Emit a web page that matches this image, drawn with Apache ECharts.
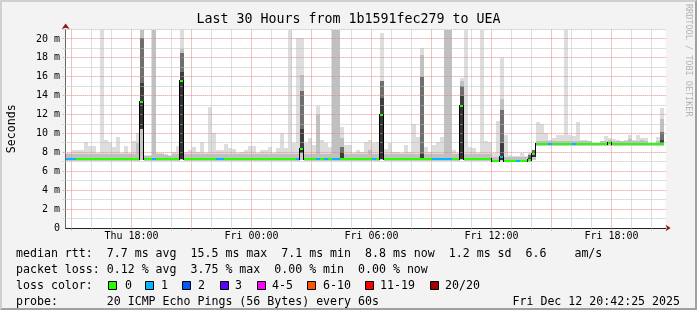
<!DOCTYPE html>
<html>
<head>
<meta charset="utf-8">
<script src="https://cdn.jsdelivr.net/npm/echarts@6/dist/echarts.min.js"></script>
<style>
html,body{margin:0;padding:0;background:#f3f3f3;}
#wrap{position:relative;width:697px;height:310px;}
#c{position:absolute;left:0;top:0;width:697px;height:310px;}
#frame{position:absolute;left:0;top:0;width:697px;height:310px;box-sizing:border-box;border:2px solid;border-color:#d0d0d0 #a0a0a0 #a0a0a0 #d0d0d0;pointer-events:none;}
</style>
</head>
<body>
<div id="wrap"><div id="c"></div><div id="frame"></div></div>
<script>
// ---------- text ----------
const chartTitle = 'Last 30 Hours from 1b1591fec279 to UEA';
const yAxisName = 'Seconds';
const sideNote = 'RRDTOOL / TOBI OETIKER';
const legendRtt = 'median rtt:  7.7 ms avg  15.5 ms max  7.1 ms min  8.8 ms now  1.2 ms sd  6.6    am/s';
const legendLoss = 'packet loss: 0.12 % avg  3.75 % max  0.00 % min  0.00 % now';
const legendColorLabel = 'loss color:';
const legendProbe = 'probe:       20 ICMP Echo Pings (56 Bytes) every 60s';
const legendDate = 'Fri Dec 12 20:42:25 2025';
const lossLegendLabels = ['0', '1', '2', '3', '4-5', '6-10', '11-19', '20/20'];
const lossLegendColors = ['#26ff00', '#00b8ff', '#0059ff', '#5e00ff', '#ff00ff', '#ff5500', '#ff0000', '#a10000'];

// ---------- axes (hours since Thu 00:00) ----------
const xStartHour = 14 + 42 / 60 + 25 / 3600;   // Thu 14:42:25
const xEndHour = xStartHour + 30;               // Fri 20:42:25
const xLabelHours = [18, 24, 30, 36, 42];
const yLabelValues = [0, 2, 4, 6, 8, 10, 12, 14, 16, 18, 20];
const firstBinStart = 14.6;   // Thu 14:36, 12-minute bins
const binHours = 0.2;
const hourGrid = [15,16,17,18,19,20,21,22,23,24,25,26,27,28,29,30,31,32,33,34,35,36,37,38,39,40,41,42,43,44];
const msGrid = [1,2,3,4,5,6,7,8,9,10,11,12,13,14,15,16,17,18,19,20,21];

// ---------- data (ms), one value per 12-minute bin ----------
const medianRtt = [
7.25,7.25,7.25,7.25,7.25,7.25,7.25,7.25,7.25,7.25,
7.25,7.25,7.25,7.25,7.25,7.25,7.25,7.25,7.25,13.37,
7.25,7.25,7.25,7.25,7.25,7.25,7.25,7.25,7.25,15.5,
7.25,7.25,7.25,7.25,7.25,7.25,7.25,7.25,7.25,7.25,
7.25,7.25,7.25,7.25,7.25,7.25,7.25,7.25,7.25,7.25,
7.25,7.25,7.25,7.25,7.25,7.25,7.25,7.25,7.25,8.35,
7.25,7.25,7.25,7.25,7.25,7.25,7.25,7.25,7.25,7.25,
7.25,7.25,7.25,7.25,7.25,7.25,7.25,7.25,7.25,11.96,
7.25,7.25,7.25,7.25,7.25,7.25,7.25,7.25,7.25,7.25,
7.25,7.25,7.25,7.25,7.25,7.25,7.25,7.25,7.25,12.9,
7.25,7.25,7.25,7.25,7.25,7.25,7.25,7.1,7.1,7.5,
7.1,7.1,7.1,7.1,7.1,7.1,7.15,7.83,8.84,8.84,
8.84,8.84,8.84,8.84,8.84,8.84,8.84,8.84,8.84,8.84,
8.84,8.84,8.84,8.84,8.84,8.84,8.97,8.84,8.84,8.84,
8.84,8.84,8.84,8.84,8.84,8.84,8.84,8.84,8.84,8.84];

const lostPings = [
1,1,1,0,0,0,0,0,0,0,
0,0,0,0,0,0,0,0,0,0,
0,0,1,0,0,0,0,0,0,0,
0,0,0,0,0,0,0,0,1,1,
0,0,0,0,0,0,0,0,0,0,
0,0,0,0,0,0,0,0,1,0,
0,0,0,1,0,1,0,1,1,0,
0,0,0,0,0,0,0,1,0,0,
0,0,0,0,0,0,0,0,0,0,
0,0,1,1,1,1,1,0,0,0,
0,0,0,0,0,0,0,0,0,1,
0,0,0,1,0,0,0,0,0,0,
0,1,0,0,0,0,0,1,0,0,
0,0,0,0,0,0,0,0,0,0,
0,0,0,0,0,0,0,0,0,0];

const smokeMin = [
7.1,7.1,7.1,7.1,7.1,7.1,7.1,7.1,7.1,7.1,
7.1,7.1,7.1,7.1,7.1,7.1,7.1,7.1,7.1,7.2,
7.1,7.1,7.1,7.1,7.1,7.1,7.1,7.1,7.1,7.2,
7.1,7.1,7.1,7.1,7.1,7.1,7.1,7.1,7.1,7.1,
7.1,7.1,7.1,7.1,7.1,7.1,7.1,7.1,7.1,7.1,
7.1,7.1,7.1,7.1,7.1,7.1,7.1,7.1,7.1,7.2,
7.1,7.1,7.1,7.1,7.1,7.1,7.1,7.1,7.1,7.1,
7.1,7.1,7.1,7.1,7.1,7.1,7.1,7.1,7.1,7.2,
7.1,7.1,7.1,7.1,7.1,7.1,7.1,7.1,7.1,7.1,
7.1,7.1,7.1,7.1,7.1,7.1,7.1,7.1,7.1,7.2,
7.1,7.1,7.1,7.1,7.1,7.1,7.1,7.0,7.0,7.05,
7.0,7.0,7.0,7.0,7.0,7.0,7.0,7.2,8.7,8.7,
8.7,8.7,8.7,8.7,8.7,8.7,8.7,8.7,8.7,8.7,
8.7,8.7,8.7,8.7,8.7,8.7,8.7,8.7,8.7,8.7,
8.7,8.7,8.7,8.7,8.7,8.7,8.7,8.7,8.7,8.7];

const smokeLow = [
7.18,7.18,7.18,7.18,7.18,7.18,7.18,7.18,7.18,7.18,
7.18,7.18,7.18,7.18,7.18,7.18,7.18,7.18,7.18,10.5,
7.18,7.18,7.18,7.18,7.18,7.18,7.18,7.18,7.18,7.3,
7.18,7.18,7.18,7.18,7.18,7.18,7.18,7.18,7.18,7.18,
7.18,7.18,7.18,7.18,7.18,7.18,7.18,7.18,7.18,7.18,
7.18,7.18,7.18,7.18,7.18,7.18,7.18,7.18,7.18,7.9,
7.18,7.18,7.18,7.18,7.18,7.18,7.18,7.18,7.18,7.18,
7.18,7.18,7.18,7.18,7.18,7.18,7.18,7.18,7.18,7.3,
7.18,7.18,7.18,7.18,7.18,7.18,7.18,7.18,7.18,7.18,
7.18,7.18,7.18,7.18,7.18,7.18,7.18,7.18,7.18,7.3,
7.18,7.18,7.18,7.18,7.18,7.18,7.18,7.05,7.05,7.15,
7.05,7.05,7.05,7.05,7.05,7.05,7.1,7.5,8.78,8.78,
8.78,8.78,8.78,8.78,8.78,8.78,8.78,8.78,8.78,8.78,
8.78,8.78,8.78,8.78,8.78,8.78,8.88,8.78,8.78,8.78,
8.78,8.78,8.78,8.78,8.78,8.78,8.78,8.78,8.78,8.78];

const smokeA = [
7.37,7.37,7.37,7.37,7.37,7.37,7.37,7.37,7.37,7.37,
7.37,7.37,7.37,7.37,7.37,7.37,7.37,7.37,7.37,15.3,
7.37,7.37,7.37,7.37,7.37,7.37,7.37,7.37,7.37,16.5,
7.37,7.37,7.37,7.37,7.37,7.37,7.37,7.37,7.37,7.37,
7.37,7.37,7.37,7.37,7.37,7.37,7.37,7.37,7.37,7.37,
7.37,7.37,7.37,7.37,7.37,7.37,7.37,7.37,7.37,10.5,
7.37,7.37,7.37,7.37,7.37,7.37,7.37,7.37,7.37,8.0,
7.37,7.37,7.37,7.37,7.37,7.37,7.37,7.37,7.37,13.8,
7.37,7.37,7.37,7.37,7.37,7.37,7.37,7.37,7.37,7.8,
7.37,7.37,7.37,7.37,7.37,7.37,7.37,7.37,7.37,14.0,
7.37,7.37,7.37,7.37,7.37,7.37,7.37,7.2,7.2,9.0,
7.2,7.2,7.2,7.2,7.2,7.2,7.4,8.0,8.95,8.95,
8.95,8.95,8.95,8.95,8.95,8.95,8.95,8.95,8.95,8.95,
8.95,8.95,8.95,8.95,8.95,8.95,9.05,8.95,8.95,8.95,
8.95,8.95,8.95,8.95,8.95,8.95,8.95,8.95,8.95,9.3];

const smokeB = [
7.37,7.37,7.37,7.37,7.37,7.37,7.37,7.37,7.37,7.37,
7.37,7.37,7.37,7.37,7.37,7.37,7.37,7.37,7.37,20.1,
7.37,7.37,7.37,7.37,7.37,7.37,7.37,7.37,7.37,18.5,
7.37,7.37,7.37,7.37,7.37,7.37,7.37,7.37,7.37,7.37,
7.37,7.37,7.37,7.37,7.37,7.37,7.37,7.37,7.37,7.37,
7.37,7.37,7.37,7.37,7.37,7.37,7.37,7.37,7.37,14.5,
7.37,7.37,7.37,7.37,7.37,7.37,7.37,7.37,7.37,8.6,
7.37,7.37,7.37,7.37,7.37,7.37,7.37,7.37,7.37,15.6,
7.37,7.37,7.37,7.37,7.37,7.37,7.37,7.37,7.37,16.0,
7.37,7.37,7.37,7.37,7.37,7.37,7.37,7.37,7.37,15.0,
7.37,7.37,7.37,7.37,7.37,7.37,7.37,7.2,7.2,12.5,
7.2,7.2,7.2,7.2,7.2,7.2,7.7,8.2,8.95,8.95,
8.95,8.95,8.95,8.95,8.95,8.95,8.95,8.95,8.95,8.95,
8.95,8.95,8.95,8.95,8.95,8.95,9.05,8.95,8.95,8.95,
8.95,8.95,8.95,8.95,8.95,8.95,8.95,8.95,8.95,10.2];

const smokeC = [
7.8,7.8,7.8,7.8,7.8,7.8,7.8,7.8,7.8,7.8,
7.8,7.8,7.8,7.8,7.8,7.8,7.8,7.8,9.0,21.0,
7.6,7.6,22,7.8,7.8,7.7,7.6,7.8,7.8,18.9,
7.8,7.8,7.8,7.8,7.8,7.8,7.8,7.8,7.8,7.8,
7.8,7.8,7.8,7.8,7.8,7.8,7.8,7.8,7.8,7.8,
7.8,7.8,7.8,7.8,7.8,7.8,7.8,7.8,7.8,16.2,
7.8,7.8,7.8,12.0,7.8,7.8,7.8,22,22,9.5,
7.8,7.8,7.8,7.8,7.8,7.8,8.2,7.8,7.8,15.6,
7.8,7.8,7.8,7.8,7.8,7.8,7.8,7.8,7.8,18.3,
7.8,7.8,7.8,7.8,7.8,22,22,7.8,7.8,15.5,
7.8,7.8,7.8,7.8,7.8,7.8,7.8,7.55,7.55,13.7,
7.55,7.55,7.5,7.5,7.55,7.5,7.8,8.3,9.2,9.2,
9.2,9.2,9.2,9.2,9.2,9.2,9.2,9.2,9.2,9.2,
9.2,9.2,8.98,8.98,9.2,9.2,9.3,9.2,9.2,9.2,
9.2,9.4,9.2,9.2,9.3,9.2,8.98,8.98,9.2,11.5];

const smokeMax = [
7.95,7.95,8.3,8.3,8.3,9.1,8.7,8.7,7.9,22,
9.3,9.05,8.6,9.66,7.9,8.65,7.9,9.2,10.0,22,
7.7,7.7,22,7.9,7.9,7.8,7.7,8.0,8.7,22,
8.05,8.3,8.6,8.0,9.13,7.9,12.84,10.0,8.3,8.25,
8.9,8.5,8.4,7.9,8.07,8.25,8.7,8.7,7.9,8.25,
8.25,8.6,7.9,8.43,10.0,8.43,22,9.0,20.1,20.1,
8.96,9.5,8.8,12.9,9.3,9.0,8.6,22,22,10.7,
8.8,8.8,7.9,8.25,8.07,9.1,9.3,8.96,9.1,20.6,
8.4,8.96,8.07,8.07,7.9,8.8,8.07,10.97,9.66,19.0,
8.6,8.07,8.8,9.1,9.66,22,22,8.25,7.9,15.9,
22,8.6,8.5,7.9,22,9.2,9.1,7.9,11.3,18.0,
9.84,7.7,7.6,7.6,7.9,7.6,7.9,8.3,11.25,11.0,
10.0,9.3,9.5,9.8,9.8,22,9.8,9.7,11.25,9.3,
9.3,9.1,9.0,9.0,9.2,9.7,9.5,9.4,9.3,9.1,
9.3,9.8,9.3,9.85,9.5,9.5,9.0,9.0,9.66,12.7];

// ---------- styling ----------
const mono = "'DejaVu Sans Mono', monospace";
const smokeShades = ['#c8c8c8', '#303030', '#3c3c3c', '#6e6e6e', '#c0c0c0', '#dddddd'];
const majorGridColor = '#e38a8a';
const minorGridColor = '#bdbdbd';
function lossColor(n) {
  if (n <= 0) return lossLegendColors[0];
  if (n === 1) return lossLegendColors[1];
  if (n === 2) return lossLegendColors[2];
  if (n === 3) return lossLegendColors[3];
  if (n <= 5) return lossLegendColors[4];
  if (n <= 10) return lossLegendColors[5];
  if (n <= 19) return lossLegendColors[6];
  return lossLegendColors[7];
}

// ---------- build series data ----------
const smokeData = [];
const medianData = [];
for (let i = 0; i < medianRtt.length; i++) {
  const t0 = firstBinStart + i * binHours, t1 = t0 + binHours;
  smokeData.push([t0, t1, smokeMin[i], smokeLow[i], medianRtt[i], smokeA[i], smokeB[i], smokeC[i], smokeMax[i]]);
  medianData.push([t0, t1, medianRtt[i], lostPings[i], i > 0 ? medianRtt[i - 1] : medianRtt[i]]);
}
const vGridData = hourGrid.map(h => [h, 0]);
const hGridData = msGrid.map(v => [xStartHour, v]);

function smokeItem(params, api) {
  const cs = params.coordSys;
  const xa = Math.max(api.coord([api.value(0), 0])[0], cs.x);
  const xb = Math.min(api.coord([api.value(1), 0])[0], cs.x + cs.width);
  const X0 = Math.round(xa), X1 = Math.round(xb);
  if (X1 <= X0) return null;
  const top = cs.y, bottom = cs.y + cs.height;
  const children = [];
  for (let b = 0; b < 6; b++) {
    const lo = api.value(2 + b), hi = api.value(3 + b);
    if (!(hi > lo)) continue;
    const y0 = Math.max(api.coord([xStartHour, hi])[1], top);
    const y1 = Math.min(api.coord([xStartHour, lo])[1], bottom);
    const Y0 = Math.round(y0), Y1 = Math.round(y1);
    if (Y1 <= Y0) continue;
    children.push({ type: 'rect', shape: { x: X0, y: Y0, width: X1 - X0, height: Y1 - Y0 }, style: { fill: smokeShades[b] } });
  }
  return { type: 'group', children };
}

function medianItem(params, api) {
  const cs = params.coordSys;
  const xa = Math.max(api.coord([api.value(0), 0])[0], cs.x);
  const xb = Math.min(api.coord([api.value(1), 0])[0], cs.x + cs.width);
  const X0 = Math.round(xa), X1 = Math.round(xb);
  if (X1 <= X0) return null;
  const med = api.value(2), prev = api.value(4);
  const yc = api.coord([xStartHour, med])[1];
  const children = [];
  if (prev !== med) {
    const yp = api.coord([xStartHour, prev])[1];
    const ya = Math.round(Math.min(yp, yc)) - 1, yb = Math.round(Math.max(yp, yc)) + 1;
    children.push({ type: 'rect', shape: { x: X0 - 1, y: ya, width: 1, height: yb - ya }, style: { fill: '#000' } });
  }
  children.push({ type: 'rect', shape: { x: X0, y: Math.round(yc - 1), width: X1 - X0, height: 2 }, style: { fill: lossColor(api.value(3)) } });
  return { type: 'group', children };
}

function vGridItem(params, api) {
  const cs = params.coordSys;
  const h = api.value(0);
  const x = Math.floor(api.coord([h, 0])[0]) + 0.5;
  return { type: 'line', shape: { x1: x, y1: cs.y, x2: x, y2: cs.y + cs.height + 3 },
    style: { stroke: h % 3 === 0 ? majorGridColor : minorGridColor, lineWidth: 1, lineDash: [1, 1] } };
}
function hGridItem(params, api) {
  const cs = params.coordSys;
  const v = api.value(1);
  const y = Math.floor(api.coord([xStartHour, v])[1]) + 0.5;
  return { type: 'line', shape: { x1: cs.x - 3, y1: y, x2: cs.x + cs.width, y2: y },
    style: { stroke: v % 2 === 0 ? majorGridColor : minorGridColor, lineWidth: 1, lineDash: [1, 1] } };
}

function fmtHour(h) {
  const day = h < 24 ? 'Thu' : 'Fri';
  const hh = Math.round(h % 24);
  return day + ' ' + (hh < 10 ? '0' : '') + hh + ':00';
}

// ---------- graphic (title, legend text) ----------
const legendRowsY = [254, 270, 286, 302];
const lossBoxX = [108, 145, 182, 220, 257, 307, 365, 430];
const lossLabelX = [125, 161, 198, 235, 272, 323, 380, 445];
function txt(x, y, text, opts) {
  opts = opts || {};
  return {
    type: 'text', x: x, y: y, rotation: opts.rotation || 0, silent: true,
    style: {
      text: text, font: (opts.size || 11.6) + 'px ' + mono, fill: opts.color || '#000',
      textAlign: opts.align || 'left', align: opts.align || 'left',
      textVerticalAlign: 'middle', verticalAlign: 'middle'
    }
  };
}
const graphics = [
  txt(348.5, 20, chartTitle, { size: 13.3, align: 'center' }),
  txt(688, 4, sideNote, { size: 8.5, color: '#b4b4b4', rotation: -Math.PI / 2 }),
  txt(16, legendRowsY[0], legendRtt),
  txt(16, legendRowsY[1], legendLoss),
  txt(16, legendRowsY[2], legendColorLabel),
  txt(16, legendRowsY[3], legendProbe),
  txt(680, legendRowsY[3], legendDate, { align: 'right' })
];
lossLegendLabels.forEach((lab, i) => {
  graphics.push({ type: 'rect', silent: true, shape: { x: lossBoxX[i] + 0.5, y: legendRowsY[2] - 4.5, width: 8, height: 8 },
    style: { fill: lossLegendColors[i], stroke: '#000', lineWidth: 1 } });
  graphics.push(txt(lossLabelX[i], legendRowsY[2], lab));
});

const chart = echarts.init(document.getElementById('c'), null, { renderer: 'canvas' });
chart.setOption({
  backgroundColor: '#f3f3f3',
  animation: false,
  textStyle: { fontFamily: mono },
  grid: { left: 65.64, right: 31.36, top: 29.5, bottom: 82, show: true, backgroundColor: '#ffffff', borderWidth: 0, outerBoundsMode: 'none' },
  xAxis: [
    { type: 'value', min: xStartHour, max: xEndHour,
      axisLine: { show: true, onZero: false, lineStyle: { color: '#222', width: 1 } },
      axisTick: { show: false }, splitLine: { show: false },
      axisLabel: { customValues: xLabelHours, formatter: fmtHour, fontFamily: mono, fontSize: 10, color: '#000', margin: 3 } },
    { type: 'value', min: xStartHour, max: xEndHour, position: 'bottom',
      axisLine: { show: true, onZero: false, symbol: ['none', 'arrow'], symbolSize: [5, 5], symbolOffset: [0, 5], lineStyle: { color: '#8b1a1a', width: 0 } },
      axisTick: { show: false }, axisLabel: { show: false }, splitLine: { show: false } }
  ],
  yAxis: [
    { type: 'value', min: 0, max: 21, interval: 1,
      axisLine: { show: true, onZero: false, lineStyle: { color: '#666', width: 1 } },
      axisTick: { show: false },
      splitLine: { show: false },
      axisLabel: { customValues: yLabelValues, formatter: v => (v === 0 ? '0' : v + ' m'), fontFamily: mono, fontSize: 10, color: '#000', margin: 5.5 },
      name: yAxisName, nameLocation: 'middle', nameGap: 48,
      nameTextStyle: { fontFamily: mono, fontSize: 11.6, color: '#000' } },
    { type: 'value', min: 0, max: 21, position: 'left',
      axisLine: { show: true, onZero: false, symbol: ['none', 'arrow'], symbolSize: [6, 5.5], symbolOffset: [0, 6], lineStyle: { color: '#8b1a1a', width: 0 } },
      axisTick: { show: false }, axisLabel: { show: false }, splitLine: { show: false } }
  ],
  series: [
    { type: 'custom', name: 'smoke', xAxisIndex: 0, yAxisIndex: 0, renderItem: smokeItem, data: smokeData,
      encode: { x: [0, 1], y: [2, 8] }, silent: true, z: 2 },
    { type: 'custom', name: 'vgrid', xAxisIndex: 0, yAxisIndex: 0, renderItem: vGridItem, data: vGridData,
      encode: { x: 0, y: 1 }, silent: true, z: 3 },
    { type: 'custom', name: 'hgrid', xAxisIndex: 0, yAxisIndex: 0, renderItem: hGridItem, data: hGridData,
      encode: { x: 0, y: 1 }, silent: true, z: 3 },
    { type: 'custom', name: 'median', xAxisIndex: 0, yAxisIndex: 0, renderItem: medianItem, data: medianData,
      encode: { x: [0, 1], y: 2 }, silent: true, z: 4 }
  ],
  graphic: graphics
});
</script>
</body>
</html>
